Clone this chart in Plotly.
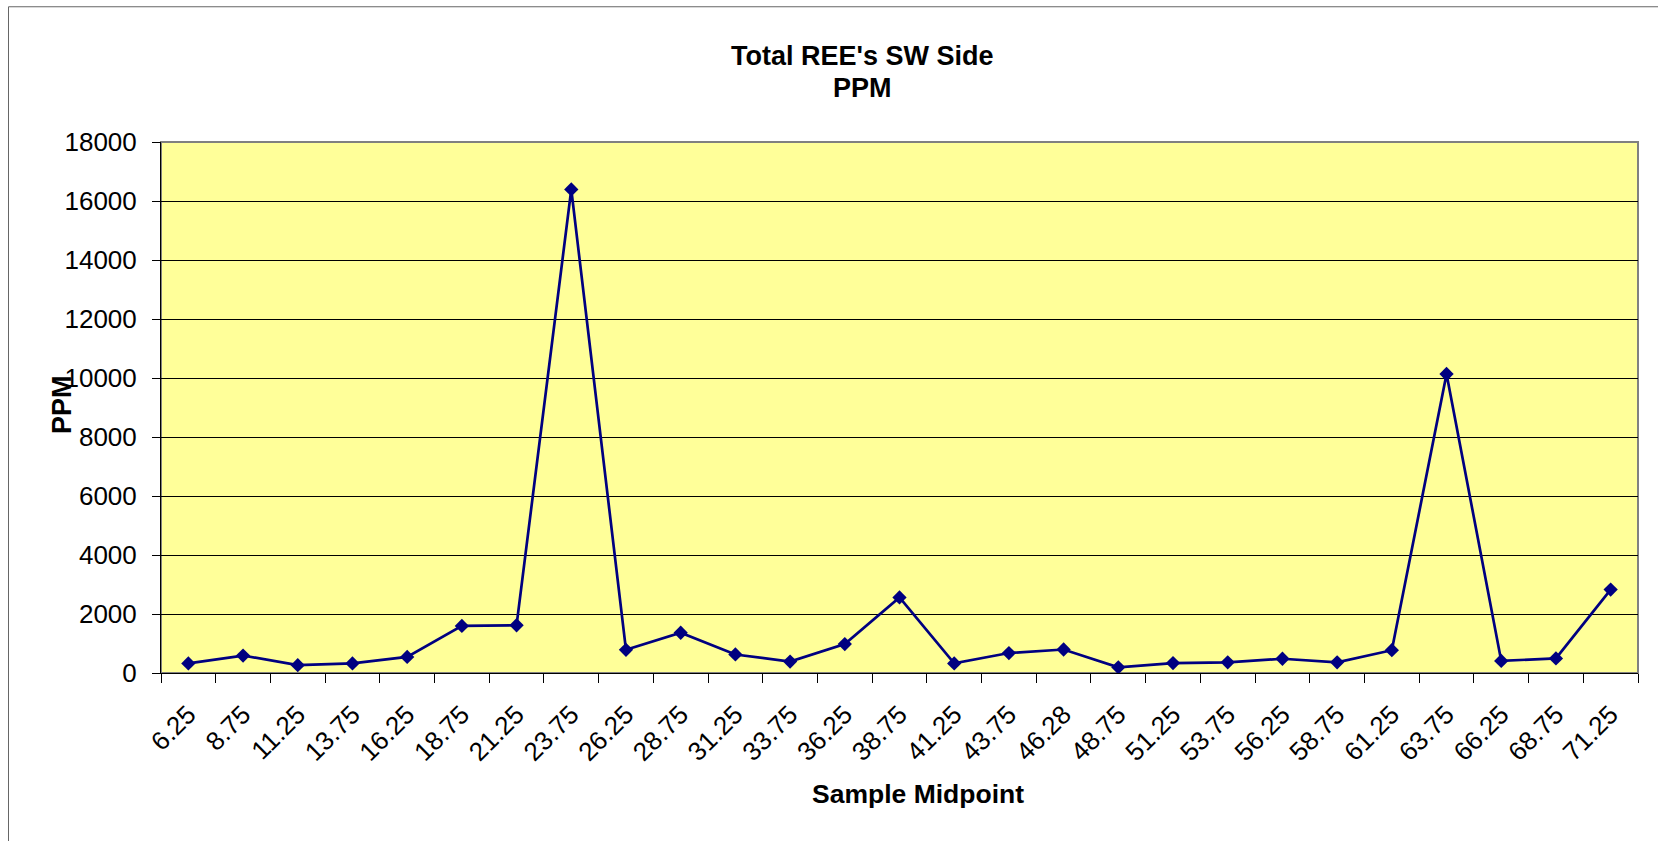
import plotly.graph_objects as go

midpoints = ["6.25", "8.75", "11.25", "13.75", "16.25", "18.75", "21.25", "23.75",
             "26.25", "28.75", "31.25", "33.75", "36.25", "38.75", "41.25", "43.75",
             "46.28", "48.75", "51.25", "53.75", "56.25", "58.75", "61.25", "63.75",
             "66.25", "68.75", "71.25"]
ppm = [326, 592, 266, 326, 544, 1595, 1619, 16393,
       785, 1365, 628, 387, 979, 2561, 326, 677,
       797, 193, 338, 362, 483, 362, 773, 10136,
       411, 495, 2827]
y_ticks = [0, 2000, 4000, 6000, 8000, 10000, 12000, 14000, 16000, 18000]

FONT = "Liberation Sans, Arial, sans-serif"
W, H = 1658, 841
L, R, T, B = 161, 1638, 141.7, 673.3

def px(x):
    return (x - L) / (R - L)

def py(y):
    return (B - y) / (B - T)

fig = go.Figure()
fig.add_trace(go.Scatter(
    x=midpoints, y=ppm, mode="lines+markers",
    line=dict(color="#000080", width=2.7),
    marker=dict(symbol="diamond", size=11, color="#000080"),
    showlegend=False, hoverinfo="x+y",
))

fig.update_layout(
    width=W, height=H,
    margin=dict(l=L, r=W - R, t=T, b=H - B),
    paper_bgcolor="white",
    plot_bgcolor="#FFFF99",
    font=dict(family=FONT, color="black", size=26),
    showlegend=False,
    xaxis=dict(
        type="category", range=[-0.5, len(midpoints) - 0.5],
        showgrid=False, zeroline=False,
        showline=True, linecolor="black", linewidth=1,
        ticks="outside", tickson="boundaries", ticklen=9, tickcolor="black", tickwidth=1,
        tickangle=-45, tickfont=dict(size=26, family=FONT),
        ticklabelstandoff=15,
    ),
    yaxis=dict(
        range=[0, 18000], tickvals=y_ticks, ticktext=[str(v) for v in y_ticks],
        showgrid=True, gridcolor="black", gridwidth=1, zeroline=False,
        showline=True, linecolor="black", linewidth=1,
        ticks="outside", ticklen=8, tickcolor="black", tickwidth=1,
        tickfont=dict(size=26, family=FONT),
        ticklabelstandoff=10,
    ),
    shapes=[
        dict(type="rect", xref="paper", yref="paper", x0=0, x1=1, y0=0, y1=1,
             line=dict(color="#808080", width=2), layer="below"),
        dict(type="rect", xref="paper", yref="paper",
             x0=px(8.5), x1=px(W + 20), y0=py(H + 20), y1=py(6.3),
             line=dict(color="#666666", width=1), layer="below"),
    ],
    annotations=[
        dict(text="<b>Total REE's SW Side</b>", xref="paper", yref="paper",
             x=px(862), y=py(56), xanchor="center", yanchor="middle",
             showarrow=False, font=dict(size=27, family=FONT)),
        dict(text="<b>PPM</b>", xref="paper", yref="paper",
             x=px(862), y=py(87.5), xanchor="center", yanchor="middle",
             showarrow=False, font=dict(size=27, family=FONT)),
        dict(text="<b>Sample Midpoint</b>", xref="paper", yref="paper",
             x=px(918), y=py(794.5), xanchor="center", yanchor="middle",
             showarrow=False, font=dict(size=26.5, family=FONT)),
        dict(text="<b>PPM</b>", xref="paper", yref="paper", textangle=-90,
             x=px(62), y=py(405), xanchor="center", yanchor="middle",
             showarrow=False, font=dict(size=27, family=FONT)),
    ],
)

fig.write_html("out.html", config={"displayModeBar": False},
               post_script="document.body.style.margin='0';document.body.style.overflow='hidden';")
